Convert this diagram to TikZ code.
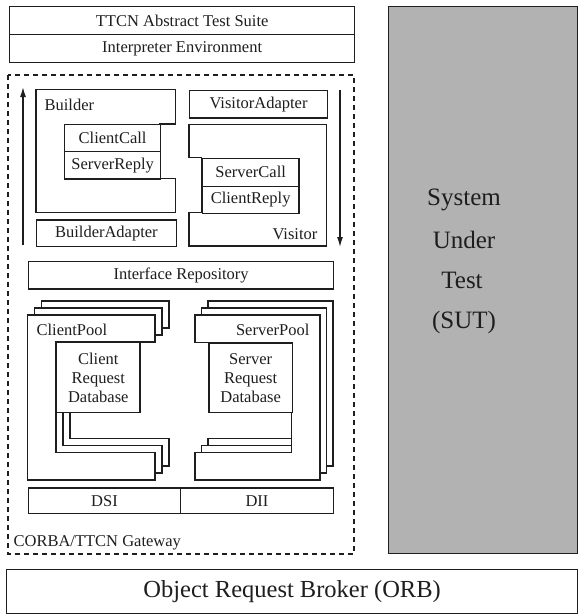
\documentclass[tikz,border=0pt]{standalone}
\usepackage{fontspec}
\setmainfont{Liberation Serif}
\usetikzlibrary{arrows.meta}
\definecolor{sutgray}{RGB}{178,178,178}
\definecolor{ink}{RGB}{30,30,30}
\begin{document}
\begin{tikzpicture}[x=1pt,y=-1pt,
  line width=1.3pt, draw=ink,
  lbl/.style={font=\fontsize{16.5}{19}\selectfont, inner sep=0pt, text=ink},
  big/.style={font=\fontsize{25}{28}\selectfont, inner sep=0pt, text=ink},
  box/.style={draw=ink, fill=white, line width=1.3pt, inner sep=0pt, anchor=north west,
              font=\fontsize{16.5}{19}\selectfont, text=ink},
  shell/.style={draw=ink, fill=white, line width=1.3pt},
  flow/.style={draw=ink, line width=1.3pt, -{Latex[length=10pt,width=6pt]}},
  gateway/.style={draw=ink, line width=1.3pt, dash pattern=on 5pt off 4pt}]
\useasboundingbox (0,0) rectangle (579,616);

% top boxes
\node[box, minimum width=345, minimum height=28] (ats) at (9,6) {TTCN Abstract Test Suite};
\node[box, minimum width=345, minimum height=28] (ienv) at (9,34) {Interpreter Environment};

% system under test
\node[draw=ink, fill=sutgray, line width=1.3pt, anchor=north west, minimum width=189, minimum height=547] (sut) at (388,6) {};
\node[big] (sut1) at (464,200) {System};
\node[big] (sut2) at (464,240) {Under};
\node[big] (sut3) at (462,280) {Test};
\node[big] (sut4) at (464,322) {(SUT)};

% ORB
\node[box, minimum width=571, minimum height=44, font=\fontsize{24.5}{28}\selectfont] (orb) at (6,569) {Object Request Broker (ORB)};

% gateway
\draw[gateway] (8,75) rectangle (354,554);
\node[lbl, anchor=west] (gwl) at (13,543) {CORBA/TTCN Gateway};

% arrows
\coordinate (upS) at (23,245);
\coordinate (upE) at (23,87);
\coordinate (dnS) at (340,90);
\coordinate (dnE) at (340,247);
\draw[flow] (upS) -- (upE);
\draw[flow] (dnS) -- (dnE);

% Builder
\draw[shell] (36,89.3) -- (175.5,89.3) -- (175.5,124) -- (160,124) -- (160,178.3) -- (175.5,178.3) -- (175.5,212.7) -- (36,212.7) -- cycle;
\node[lbl, anchor=west] (builder) at (44,105) {Builder};
\node[box, minimum width=96, minimum height=27] (ccall) at (64,124) {ClientCall};
\node[box, minimum width=96, minimum height=27.3] (sreply) at (64,151) {ServerReply};
\node[box, minimum width=139.5, minimum height=26.7] (badapt) at (36,219.3) {BuilderAdapter};

% Visitor
\node[box, minimum width=137.7, minimum height=27.3] (vadapt) at (189,90) {VisitorAdapter};
\draw[shell] (189,124.3) -- (326.7,124.3) -- (326.7,246) -- (189,246) -- (189,212.7) -- (201.7,212.7) -- (201.7,157.7) -- (189,157.7) -- cycle;
\node[lbl, anchor=east] (visitor) at (318,234) {Visitor};
\node[box, minimum width=96.6, minimum height=28] (scall) at (201.7,157.7) {ServerCall};
\node[box, minimum width=96.6, minimum height=27] (creply) at (201.7,185.7) {ClientReply};

% Interface Repository
\node[box, minimum width=305, minimum height=27.6] (irep) at (28,260.7) {Interface Repository};

% ClientPool stack
\foreach \k in {2,1,0}{
  \draw[shell, shift={(7*\k,-7*\k)}] (27.3,315) -- (155,315) -- (155,342) -- (56,342) -- (56,452.7) -- (155,452.7) -- (155,480) -- (27.3,480) -- cycle;
}
\node[lbl, anchor=west] (cpool) at (36,330) {ClientPool};
\node[box, minimum width=83.3, minimum height=69.7, align=center] (cdb) at (56,342) {Client\\Request\\Database};

% ServerPool stack
\foreach \k in {2,1,0}{
  \draw[shell, shift={(6.5*\k,-7*\k)}] (195,315) -- (320,315) -- (320,480) -- (195,480) -- (195,452.7) -- (291.7,452.7) -- (291.7,342.3) -- (195,342.3) -- cycle;
}
\node[lbl, anchor=east] (spool) at (310,330) {ServerPool};
\node[box, minimum width=83.4, minimum height=69.4, align=center] (sdb) at (208.3,342.3) {Server\\Request\\Database};

% DSI / DII
\node[box, minimum width=152.3, minimum height=25.4] (dsi) at (27.7,487.3) {DSI};
\node[box, minimum width=152.7, minimum height=25.4] (dii) at (180,487.3) {DII};
\end{tikzpicture}
\end{document}
